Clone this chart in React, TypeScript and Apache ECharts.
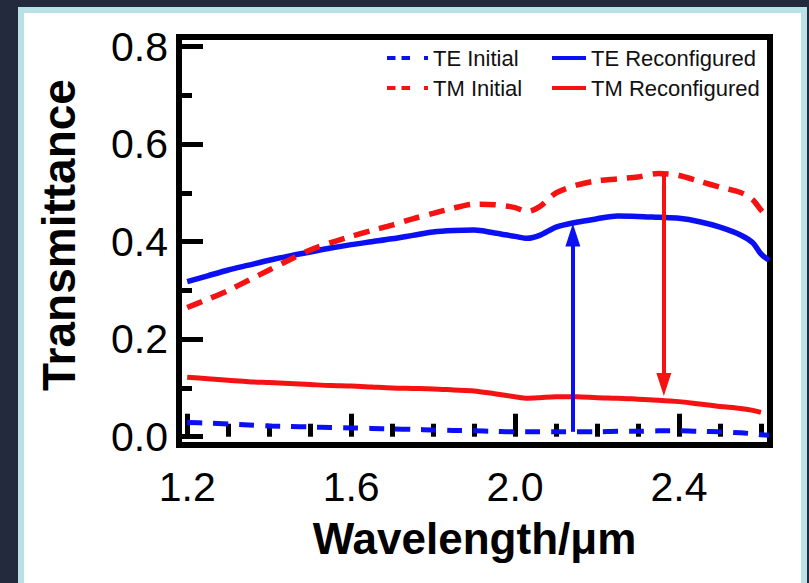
import React, { useEffect, useRef } from "react";
import * as echarts from "echarts";

const wavelength = [1.2, 1.25, 1.3, 1.35, 1.4, 1.45, 1.5, 1.55, 1.6, 1.65, 1.7, 1.75, 1.8, 1.85, 1.9, 1.95, 2.0, 2.03, 2.06, 2.1, 2.15, 2.2, 2.25, 2.3, 2.35, 2.4, 2.45, 2.5, 2.55, 2.58, 2.6, 2.62];

const teInitial = [0.029, 0.028, 0.026, 0.024, 0.022, 0.021, 0.02, 0.019, 0.018, 0.017, 0.016, 0.015, 0.014, 0.013, 0.012, 0.011, 0.01, 0.01, 0.01, 0.01, 0.01, 0.01, 0.011, 0.011, 0.012, 0.012, 0.011, 0.01, 0.008, 0.006, 0.004, 0.003];

const teReconfigured = [0.318, 0.33, 0.342, 0.352, 0.362, 0.371, 0.379, 0.387, 0.394, 0.4, 0.406, 0.413, 0.42, 0.423, 0.424, 0.418, 0.411, 0.407, 0.413, 0.43, 0.44, 0.447, 0.453, 0.452, 0.45, 0.448, 0.441, 0.43, 0.414, 0.398, 0.375, 0.362];

const tmInitial = [0.265, 0.282, 0.3, 0.321, 0.342, 0.363, 0.383, 0.398, 0.411, 0.423, 0.434, 0.447, 0.458, 0.469, 0.477, 0.476, 0.47, 0.462, 0.472, 0.5, 0.516, 0.525, 0.529, 0.533, 0.54, 0.536, 0.524, 0.512, 0.501, 0.486, 0.465, 0.448];

const tmReconfigured: (number | string)[] = [0.122, 0.119, 0.116, 0.113, 0.111, 0.109, 0.107, 0.105, 0.104, 0.102, 0.1, 0.099, 0.098, 0.096, 0.094, 0.088, 0.082, 0.079, 0.08, 0.082, 0.082, 0.08, 0.079, 0.077, 0.075, 0.072, 0.067, 0.062, 0.058, 0.054, 0.05, "-"];

// arrows: [wavelength, start value, end value]
const blueArrow = [2.141, 0.01, 0.414];
const redArrow = [2.363, 0.543, 0.107];

const yMajorTicks = [0, 0.2, 0.4, 0.6, 0.8];
const yMinorTicks = [0.1, 0.3, 0.5, 0.7];
const xMajorTicks = [1.2, 1.6, 2.0, 2.4];
const xMinorTicks = [1.3, 1.4, 1.5, 1.7, 1.8, 1.9, 2.1, 2.2, 2.3, 2.5, 2.6];

const BLUE = "#0a10f2";
const RED = "#f51212";
const FONT = "'Liberation Sans', Arial, Helvetica, sans-serif";

const pairs = (ys: (number | string)[]) => wavelength.map((x, i) => [x, ys[i]]);

export default function App() {
  const ref = useRef<HTMLDivElement>(null);

  useEffect(() => {
    const chart = echarts.init(ref.current!, null, { renderer: "svg" });
    const xMin = 1.18;
    const xMax = 2.622;
    const yMin = -0.017;
    const yMax = 0.82;
    const tickStyle = { color: "#000", width: 5 };
    const labelStyle = { fontSize: 41, color: "#000", fontFamily: FONT };
    const legendText = { fontSize: 22, lineHeight: 22, color: "#111", fontFamily: FONT, padding: [0, 0, 6, 0] };

    chart.setOption({
      animation: false,
      backgroundColor: "transparent",
      grid: {
        left: 179,
        right: 39,
        top: 37,
        bottom: 138,
        show: true,
        borderColor: "#000",
        borderWidth: 6,
        backgroundColor: "transparent",
      },
      legend: [
        {
          orient: "vertical",
          left: 385,
          top: 44,
          padding: 0,
          itemWidth: 41,
          itemHeight: 14,
          itemGap: 2,
          selectedMode: false,
          data: ["TE Initial", "TM Initial"],
          itemStyle: { opacity: 0 },
          lineStyle: { width: 4, type: [8.5, 6, 8.5, 14] },
          textStyle: legendText,
        },
        {
          orient: "vertical",
          left: 550,
          top: 44,
          padding: 0,
          itemWidth: 34,
          itemHeight: 14,
          itemGap: 2,
          selectedMode: false,
          data: ["TE Reconfigured", "TM Reconfigured"],
          itemStyle: { opacity: 0 },
          lineStyle: { width: 4 },
          textStyle: legendText,
        },
      ],
      xAxis: [
        {
          type: "value",
          min: xMin,
          max: xMax,
          position: "bottom",
          axisLine: { show: false },
          splitLine: { show: false },
          axisTick: { show: true, inside: true, length: 23, lineStyle: tickStyle, customValues: xMajorTicks },
          axisLabel: { ...labelStyle, margin: 21, customValues: xMajorTicks, formatter: (v: number) => v.toFixed(1) },
          name: "Wavelength/μm",
          nameLocation: "middle",
          nameGap: 71,
          nameTextStyle: { fontSize: 44, fontWeight: "bold", color: "#000", fontFamily: FONT },
        },
        {
          type: "value",
          min: xMin,
          max: xMax,
          position: "bottom",
          axisLine: { show: false },
          splitLine: { show: false },
          axisTick: { show: true, inside: true, length: 13, lineStyle: tickStyle, customValues: xMinorTicks },
          axisLabel: { show: false },
        },
      ],
      yAxis: [
        {
          type: "value",
          min: yMin,
          max: yMax,
          position: "left",
          axisLine: { show: false },
          splitLine: { show: false },
          axisTick: { show: true, inside: true, length: 24, lineStyle: tickStyle, customValues: yMajorTicks },
          axisLabel: { ...labelStyle, margin: 11, customValues: yMajorTicks, formatter: (v: number) => v.toFixed(1) },
          name: "Transmittance",
          nameLocation: "middle",
          nameRotate: 90,
          nameGap: 97,
          nameTextStyle: { fontSize: 46, fontWeight: "bold", color: "#000", fontFamily: FONT, padding: [0, 0, 0, 12] },
        },
        {
          type: "value",
          min: yMin,
          max: yMax,
          position: "left",
          axisLine: { show: false },
          splitLine: { show: false },
          axisTick: { show: true, inside: true, length: 13, lineStyle: tickStyle, customValues: yMinorTicks },
          axisLabel: { show: false },
        },
      ],
      series: [
        {
          name: "TE Initial",
          type: "line",
          data: pairs(teInitial),
          symbol: "none",
          smooth: 0.3,
          itemStyle: { color: BLUE },
          lineStyle: { color: BLUE, width: 5, type: [15, 11] },
          emphasis: { disabled: true },
        },
        {
          name: "TE Reconfigured",
          type: "line",
          data: pairs(teReconfigured),
          symbol: "none",
          smooth: 0.3,
          itemStyle: { color: BLUE },
          lineStyle: { color: BLUE, width: 5.5 },
          emphasis: { disabled: true },
          markLine: {
            silent: true,
            symbol: ["none", "triangle"],
            symbolSize: [15, 23],
            label: { show: false },
            lineStyle: { color: BLUE, width: 4, type: "solid" },
            emphasis: { disabled: true },
            data: [[{ coord: [blueArrow[0], blueArrow[1]] }, { coord: [blueArrow[0], blueArrow[2]] }]],
          },
        },
        {
          name: "TM Initial",
          type: "line",
          data: pairs(tmInitial),
          symbol: "none",
          smooth: 0.3,
          itemStyle: { color: RED },
          lineStyle: { color: RED, width: 5.5, type: [16, 10] },
          emphasis: { disabled: true },
        },
        {
          name: "TM Reconfigured",
          type: "line",
          data: pairs(tmReconfigured),
          symbol: "none",
          smooth: 0.3,
          itemStyle: { color: RED },
          lineStyle: { color: RED, width: 5 },
          emphasis: { disabled: true },
          markLine: {
            silent: true,
            symbol: ["none", "triangle"],
            symbolSize: [15, 23],
            label: { show: false },
            lineStyle: { color: RED, width: 4, type: "solid" },
            emphasis: { disabled: true },
            data: [[{ coord: [redArrow[0], redArrow[1]] }, { coord: [redArrow[0], redArrow[2]] }]],
          },
        },
      ],
    });

    return () => chart.dispose();
  }, []);

  return (
    <div style={{ position: "absolute", left: 0, top: 0, width: 809, height: 583, overflow: "hidden", background: "#232a3e" }}>
      <div
        style={{
          position: "absolute",
          left: 18,
          top: 7,
          width: 789,
          height: 582,
          boxSizing: "border-box",
          border: "6px solid #b9e1e6",
          background: "#ffffff",
        }}
      />
      <div ref={ref} style={{ position: "absolute", left: 0, top: 0, width: 809, height: 583 }} />
    </div>
  );
}
